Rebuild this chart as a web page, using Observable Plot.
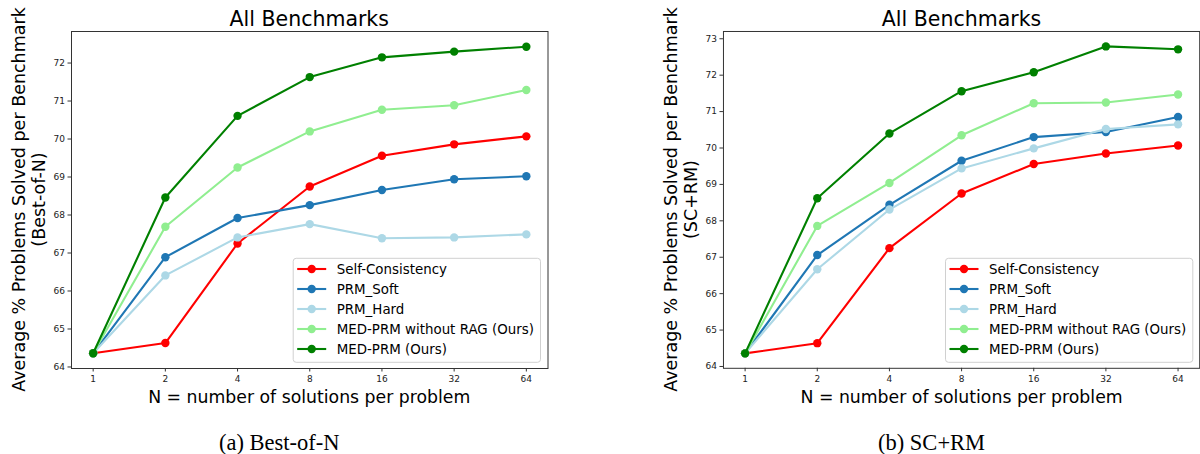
<!DOCTYPE html>
<html>
<head>
<meta charset="utf-8">
<script src="https://cdn.jsdelivr.net/npm/d3@7"></script>
<script src="https://cdn.jsdelivr.net/npm/@observablehq/plot@0.6"></script>
<style>
  html, body { margin: 0; padding: 0; background: #fff; }
  #wrap { position: relative; width: 1200px; height: 454px; overflow: hidden; background: #fff; font-family: "DejaVu Sans", sans-serif; }
  #wrap > .panel { position: absolute; top: 0; }
  #overlay { position: absolute; left: 0; top: 0; pointer-events: none; }
</style>
</head>
<body>
<div id="wrap"></div>
<script>
// ---------- data ----------
const N = [1, 2, 4, 8, 16, 32, 64];
const seriesNames = ["Self-Consistency", "PRM_Soft", "PRM_Hard", "MED-PRM without RAG (Ours)", "MED-PRM (Ours)"];
const seriesColors = ["#ff0000", "#1f77b4", "#add8e6", "#90ee90", "#008000"];

// (a) Best-of-N
const bestOfN_selfConsistency = [64.36, 64.63, 67.25, 68.75, 69.56, 69.86, 70.07];
const bestOfN_prmSoft        = [64.36, 66.89, 67.92, 68.26, 68.66, 68.94, 69.02];
const bestOfN_prmHard        = [64.36, 66.41, 67.41, 67.76, 67.39, 67.41, 67.49];
const bestOfN_medPrmNoRag    = [64.36, 67.69, 69.25, 70.20, 70.77, 70.89, 71.29];
const bestOfN_medPrm         = [64.36, 68.46, 70.61, 71.63, 72.15, 72.30, 72.43];

// (b) SC+RM
const scRm_selfConsistency = [64.36, 64.64, 67.25, 68.75, 69.56, 69.85, 70.07];
const scRm_prmSoft         = [64.36, 67.06, 68.44, 69.65, 70.30, 70.44, 70.85];
const scRm_prmHard         = [64.36, 66.67, 68.31, 69.44, 69.99, 70.52, 70.65];
const scRm_medPrmNoRag     = [64.36, 67.86, 69.04, 70.35, 71.23, 71.25, 71.47];
const scRm_medPrm          = [64.36, 68.62, 70.40, 71.56, 72.08, 72.79, 72.71];

const yTicksBestOfN = [64, 65, 66, 67, 68, 69, 70, 71, 72];
const yTicksScRm = [64, 65, 66, 67, 68, 69, 70, 71, 72, 73];

const chartTitle = "All Benchmarks";
const xLabel = "N = number of solutions per problem";
const yLabel = "Average % Problems Solved per Benchmark";
const panels = [
  { values: [bestOfN_selfConsistency, bestOfN_prmSoft, bestOfN_prmHard, bestOfN_medPrmNoRag, bestOfN_medPrm],
    yDomain: [63.96, 72.83], yTicks: yTicksBestOfN, ySub: "(Best-of-N)", caption: "(a) Best-of-N", left: 0 },
  { values: [scRm_selfConsistency, scRm_prmSoft, scRm_prmHard, scRm_medPrmNoRag, scRm_medPrm],
    yDomain: [63.95, 73.2], yTicks: yTicksScRm, ySub: "(SC+RM)", caption: "(b) SC+RM", left: 652.3 }
];

// ---------- layout ----------
const W = 548, H = 454, mL = 71, mR = 0.5, mT = 31, mB = 86;
const plotW = W - mL - mR;
const ink = "#333";

const wrap = document.getElementById("wrap");

function makeChart(p) {
  const marks = [];
  marks.push(Plot.axisX({ticks: N, tickFormat: d => String(d), tickSize: 3.5, tickPadding: 4, fontSize: 9, label: null, stroke: ink, fill: "#222"}));
  marks.push(Plot.axisY({ticks: p.yTicks, tickFormat: d => String(d), tickSize: 3.5, tickPadding: 3, fontSize: 9, label: null, stroke: ink, fill: "#222"}));
  seriesNames.forEach((name, i) => {
    const rows = N.map((n, j) => ({N: n, value: p.values[i][j], series: name}));
    marks.push(Plot.line(rows, {x: "N", y: "value", stroke: seriesColors[i], strokeWidth: 2.1}));
    marks.push(Plot.dot(rows, {x: "N", y: "value", r: 4.2, fill: seriesColors[i]}));
  });
  marks.push(Plot.frame({stroke: ink, strokeWidth: 1}));
  return Plot.plot({
    width: W, height: H,
    marginLeft: mL, marginRight: mR, marginTop: mT, marginBottom: mB,
    style: {fontFamily: "DejaVu Sans, sans-serif", fontSize: "9px", background: "transparent", overflow: "visible", color: "#222"},
    x: {type: "log", base: 2, domain: [Math.pow(2, -0.3), Math.pow(2, 6.3)], label: null},
    y: {type: "linear", domain: p.yDomain, label: null},
    marks
  });
}

panels.forEach(p => {
  const div = document.createElement("div");
  div.className = "panel";
  div.style.left = p.left + "px";
  div.appendChild(makeChart(p));
  wrap.appendChild(div);
});

// ---------- overlay texts & legends ----------
const svg = d3.select(wrap).append("svg")
  .attr("id", "overlay").attr("width", 1200).attr("height", 454)
  .style("font-family", "DejaVu Sans, sans-serif");

panels.forEach(p => {
  const fL = p.left + mL;           // frame left
  const fR = fL + plotW;            // frame right
  const cx = (fL + fR) / 2;
  const cy = (mT + (H - mB)) / 2;

  svg.append("text").attr("x", cx).attr("y", 26).attr("text-anchor", "middle")
    .attr("font-size", 20.5).attr("fill", "#000").text(chartTitle);

  svg.append("text").attr("x", cx).attr("y", 403).attr("text-anchor", "middle")
    .attr("font-size", 17.3).attr("fill", "#000").text(xLabel);

  const yl = svg.append("g").attr("transform", `translate(0,${cy}) rotate(-90)`);
  yl.append("text").attr("x", 0).attr("y", fL - 46).attr("text-anchor", "middle")
    .attr("font-size", 17.5).attr("fill", "#000").text(yLabel);
  yl.append("text").attr("x", 0).attr("y", fL - 26).attr("text-anchor", "middle")
    .attr("font-size", 17.5).attr("fill", "#000").text(p.ySub);

  svg.append("text").attr("x", cx - 30).attr("y", 450).attr("text-anchor", "middle")
    .attr("font-family", "Liberation Serif, serif").attr("font-size", 22.5).attr("fill", "#000").text(p.caption);

  // legend
  const bw = 247.3, bh = 104;
  const bx = fR - 7 - bw, by = (H - mB) - 5.7 - bh;
  const lg = svg.append("g");
  lg.append("rect").attr("x", bx).attr("y", by).attr("width", bw).attr("height", bh)
    .attr("rx", 3).attr("fill", "#fff").attr("fill-opacity", 0.85)
    .attr("stroke", "#d0d0d0").attr("stroke-width", 1);
  seriesNames.forEach((name, i) => {
    const ry = by + 10.7 + i * 20;
    lg.append("line").attr("x1", bx + 4).attr("x2", bx + 33).attr("y1", ry).attr("y2", ry)
      .attr("stroke", seriesColors[i]).attr("stroke-width", 2.1);
    lg.append("circle").attr("cx", bx + 18.5).attr("cy", ry).attr("r", 4.2).attr("fill", seriesColors[i]);
    lg.append("text").attr("x", bx + 43.5).attr("y", ry + 4.7).attr("font-size", 13.4).attr("fill", "#000").text(name);
  });
});
</script>
</body>
</html>
